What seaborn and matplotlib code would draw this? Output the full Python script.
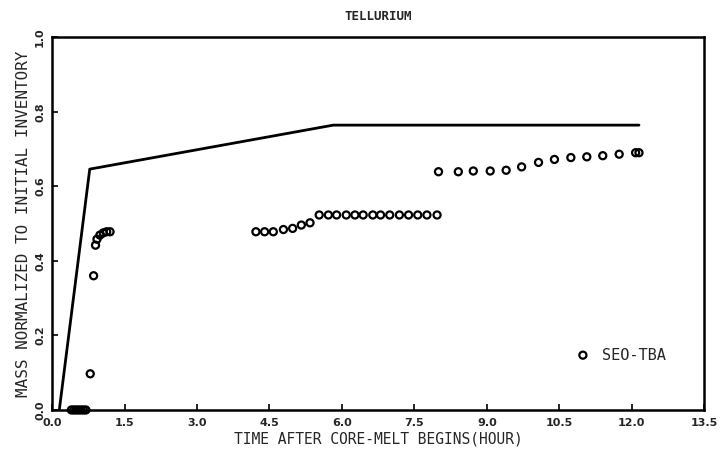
import matplotlib
matplotlib.use("Agg")
import matplotlib.pyplot as plt
import seaborn as sns
import pandas as pd

# Model curve (solid line)
line_time = [0.15, 0.78, 5.82, 12.15]
line_mass = [0.0, 0.646, 0.764, 0.764]

# SEO-TBA data points (open circles)
pt_time = [0.40, 0.45, 0.50, 0.55, 0.60, 0.65, 0.70,
           0.79, 0.86, 0.90, 0.93, 0.99, 1.06, 1.13, 1.20,
           4.22, 4.40, 4.58, 4.79, 4.98, 5.16, 5.34, 5.53, 5.72, 5.89,
           6.09, 6.27, 6.44, 6.64, 6.80, 6.99, 7.19, 7.38, 7.57, 7.76, 7.97,
           8.00, 8.41, 8.72, 9.07, 9.40, 9.72, 10.07, 10.40, 10.74, 11.07,
           11.40, 11.74, 12.08, 12.15]
pt_mass = [0.0, 0.0, 0.0, 0.0, 0.0, 0.0, 0.0,
           0.097, 0.36, 0.442, 0.458, 0.469, 0.475, 0.478, 0.478,
           0.478, 0.478, 0.478, 0.484, 0.487, 0.496, 0.502, 0.523, 0.523, 0.523,
           0.523, 0.523, 0.523, 0.523, 0.523, 0.523, 0.523, 0.523, 0.523, 0.523, 0.523,
           0.639, 0.639, 0.641, 0.641, 0.643, 0.652, 0.664, 0.672, 0.677, 0.679,
           0.682, 0.686, 0.690, 0.690]

x_ticks = [0.0, 1.5, 3.0, 4.5, 6.0, 7.5, 9.0, 10.5, 12.0, 13.5]
y_ticks = [0.0, 0.2, 0.4, 0.6, 0.8, 1.0]

title = "TELLURIUM"
x_label = "TIME AFTER CORE-MELT BEGINS(HOUR)"
y_label = "MASS NORMALIZED TO INITIAL INVENTORY"
series_name = "SEO-TBA"

sns.set_style("white")
plt.rcParams['font.family'] = ['DejaVu Sans']
MONO = ['DejaVu Sans Mono', 'DejaVu Sans']

fig = plt.figure(figsize=(7.23, 4.53), dpi=100)
ax = fig.add_axes([0.072, 0.095, 0.902, 0.823])

line_df = pd.DataFrame({"t": line_time, "m": line_mass})
pt_df = pd.DataFrame({"t": pt_time, "m": pt_mass})

sns.lineplot(data=line_df, x="t", y="m", ax=ax, color="black", linewidth=2.0,
             sort=False, estimator=None)
sns.scatterplot(data=pt_df, x="t", y="m", ax=ax, color="black",
                marker="o", s=26, linewidth=1.6, clip_on=False, zorder=3,
                legend=False)
coll = ax.collections[-1]
coll.set_facecolor("none")
coll.set_edgecolor("black")
coll.set_linewidth(1.6)

ax.set_xlim(0, 13.5)
ax.set_ylim(0, 1.0)
ax.set_xticks(x_ticks)
ax.set_xticklabels([f"{v:.1f}" for v in x_ticks], fontsize=8, fontweight="bold")
ax.set_yticks(y_ticks)
ax.set_yticklabels([f"{v:.1f}" for v in y_ticks], fontsize=8, fontweight="bold",
                   rotation=90, va="center")
ax.tick_params(axis="x", direction="in", length=4, width=1.2, color="black",
               bottom=True, pad=6)
ax.tick_params(axis="y", direction="in", length=4, width=1.2, color="black",
               left=True, pad=5)
for sp in ax.spines.values():
    sp.set_color("black")
    sp.set_linewidth(1.8)

ax.set_xlabel(x_label, fontsize=10.5, family=MONO, labelpad=2)
ax.set_ylabel(y_label, fontsize=11.5, family=MONO, labelpad=3)
ax.set_title(title, fontsize=9, fontweight="bold", family=MONO, pad=12)

# legend entry
ax.scatter([0.814], [0.147], transform=ax.transAxes, s=26, facecolors="none",
           edgecolors="black", linewidths=1.6)
ax.text(0.843, 0.147, series_name, transform=ax.transAxes, fontsize=11,
        family=MONO, va="center", ha="left")

fig.savefig("out.png", dpi=100)
